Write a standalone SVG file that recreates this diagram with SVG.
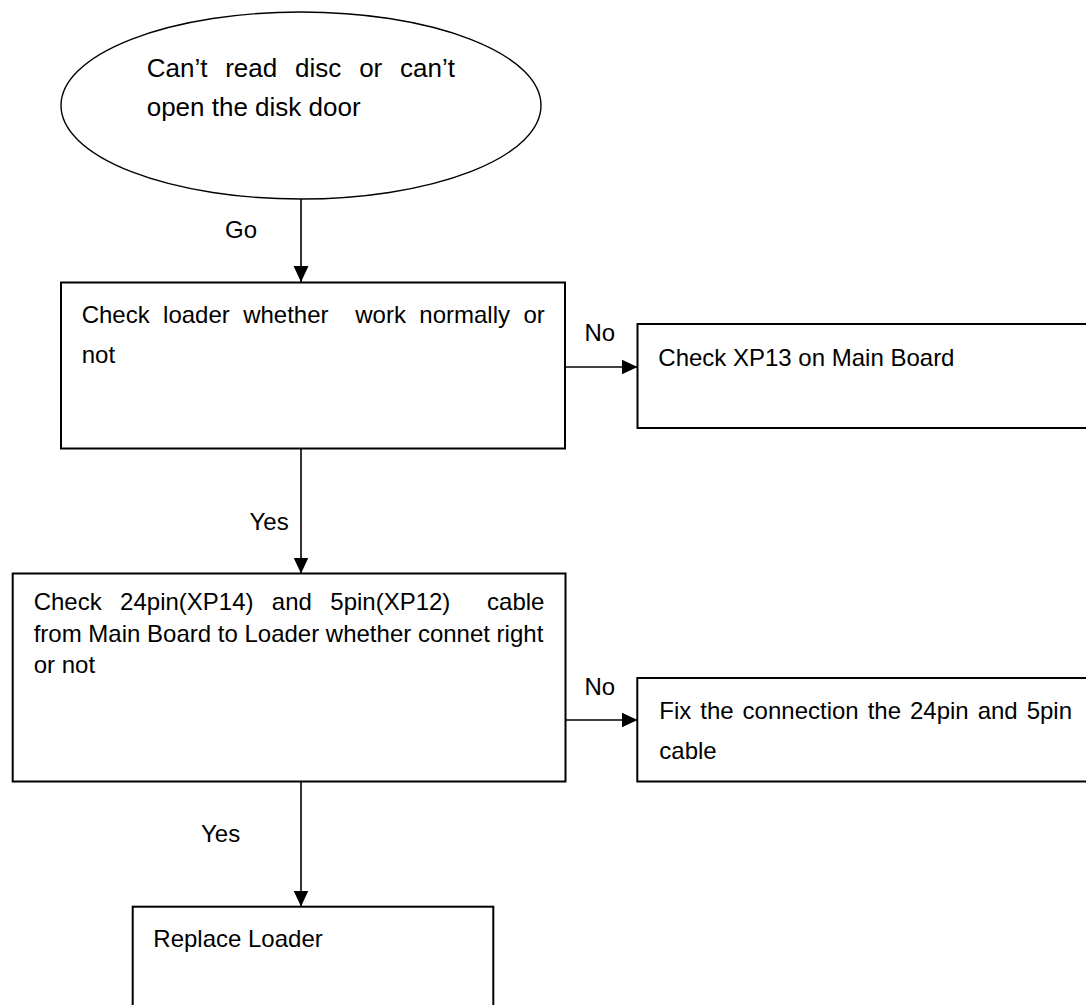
<svg xmlns="http://www.w3.org/2000/svg" width="1086" height="1005" viewBox="0 0 1086 1005">
<defs>
<marker id="arr" viewBox="0 0 16 16" refX="16" refY="8" markerWidth="16" markerHeight="16" markerUnits="userSpaceOnUse" orient="auto"><path d="M0,0.5 L16,8 L0,15.5 z" fill="#000"/></marker>
<style>
.shape{fill:#fff;stroke:#000;stroke-width:2}
.oval{fill:#fff;stroke:#000;stroke-width:1.4}
.t{font-family:"Liberation Sans",Arial,sans-serif;font-size:24px;fill:#000}
.big{font-size:26px}
.conn{stroke:#000;stroke-width:1.6;fill:none;marker-end:url(#arr)}
</style>
</defs>
<rect width="1086" height="1005" fill="#fff"/>

<g id="connectors">
<line class="conn" x1="301" y1="199" x2="301" y2="282"/>
<line class="conn" x1="565" y1="367" x2="637.5" y2="367"/>
<line class="conn" x1="301" y1="448.5" x2="301" y2="573.5"/>
<line class="conn" x1="565.5" y1="720" x2="637.5" y2="720"/>
<line class="conn" x1="301" y1="781.5" x2="301" y2="906.5"/>
<text class="t" x="225" y="238">Go</text>
<text class="t" x="584.5" y="341">No</text>
<text class="t" x="249.5" y="529.5">Yes</text>
<text class="t" x="584.5" y="695">No</text>
<text class="t" x="201" y="842">Yes</text>
</g>

<g id="start">
<ellipse class="oval" cx="301" cy="105.5" rx="240" ry="93.5"/>
<text class="t big" x="146.7" y="77" word-spacing="10.6">Can’t read disc or can’t</text>
<text class="t big" x="146.7" y="116">open the disk door</text>
</g>

<g id="check-loader">
<rect class="shape" x="61" y="282.5" width="504" height="166"/>
<text class="t" x="81.7" y="322.7" word-spacing="6.7" xml:space="preserve">Check loader whether  work normally or</text>
<text class="t" x="81.7" y="363.3">not</text>
</g>

<g id="check-xp13">
<rect class="shape" x="637.5" y="324" width="470" height="104"/>
<text class="t" x="658.3" y="366">Check XP13 on Main Board</text>
</g>

<g id="check-cable">
<rect class="shape" x="12.7" y="573.5" width="552.8" height="208"/>
<text class="t" x="33.7" y="610" word-spacing="11.7" xml:space="preserve">Check 24pin(XP14) and 5pin(XP12)  cable</text>
<text class="t" x="33.7" y="641.7">from Main Board to Loader whether connet right</text>
<text class="t" x="33.7" y="673.3">or not</text>
</g>

<g id="fix-cable">
<rect class="shape" x="637.3" y="678" width="470" height="103.5"/>
<text class="t" x="659.3" y="719.3" word-spacing="2.3">Fix the connection the 24pin and 5pin</text>
<text class="t" x="659.3" y="759.3">cable</text>
</g>

<g id="replace-loader">
<rect class="shape" x="132.7" y="906.7" width="360.6" height="120"/>
<text class="t" x="153.3" y="946.7">Replace Loader</text>
</g>
</svg>
